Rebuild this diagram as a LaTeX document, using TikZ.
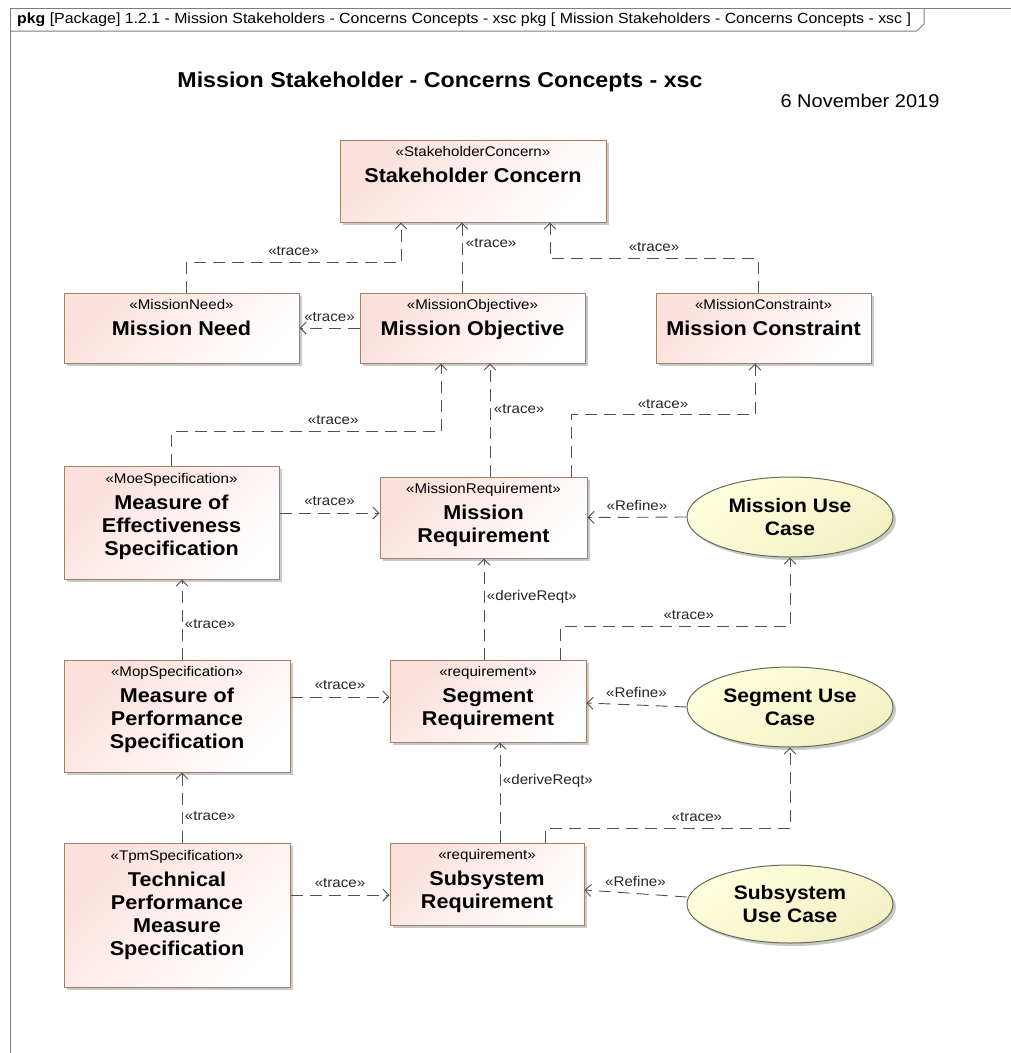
\documentclass[tikz,border=0pt]{standalone}
\usepackage{fontspec}
\setmainfont{Liberation Sans}[FakeStretch=1.08]
\usetikzlibrary{arrows.meta,shapes.geometric,shadows,calc}
\definecolor{boxpink}{RGB}{251,224,220}
\definecolor{boxedge}{RGB}{160,128,105}
\definecolor{ucyel}{RGB}{255,255,222}
\definecolor{ucyel2}{RGB}{242,240,196}
\definecolor{ucedge}{RGB}{105,105,85}
\definecolor{depcol}{RGB}{80,80,80}
\definecolor{framecol}{RGB}{125,125,125}
\tikzset{
  blk/.style={rectangle, draw=boxedge, line width=1pt, shading=axis, top color=boxpink, bottom color=white, shading angle=45,
    drop shadow={shadow xshift=3pt, shadow yshift=-3pt, fill=black!30, opacity=0.7}, inner sep=0pt},
  uc/.style={ellipse, draw=ucedge, line width=1pt, shading=axis, top color=ucyel, bottom color=ucyel2, shading angle=30,
    drop shadow={shadow xshift=3pt, shadow yshift=-3pt, fill=black!30, opacity=0.7},
    minimum width=206pt, minimum height=80pt, inner sep=0pt, align=center, font=\fontsize{19.5}{23}\selectfont\bfseries},
  txt/.style={anchor=north, align=center, inner sep=0pt, font=\fontsize{20}{23}\selectfont\bfseries},
  lbl/.style={font=\fontsize{14}{16}\selectfont, text=black!85, inner sep=1.5pt},
  dep/.style={draw=depcol, line width=0.9pt, dash pattern=on 12pt off 7pt, -{Straight Barb[length=6pt,width=12pt,line width=0.9pt]}},
}
\newcommand{\stt}[1]{{\fontsize{14}{16}\selectfont\mdseries «#1»}\\[3pt]}
\begin{document}
\begin{tikzpicture}[x=1pt,y=-1pt]
\useasboundingbox (0,0) rectangle (1011,1053);
% frame
\draw[framecol, line width=1pt] (10,1053) -- (10,8) -- (1011,8);
\draw[framecol, line width=1pt] (10,31) -- (917,31) -- (924,24) -- (924,8);
\node[anchor=west, inner sep=0pt, font=\fontsize{14.7}{16}\selectfont] (hdr) at (17,20) {\textbf{pkg} [Package] 1.2.1 - Mission Stakeholders - Concerns Concepts - xsc pkg [ Mission Stakeholders - Concerns Concepts - xsc ]};
\node[inner sep=0pt, font=\fontsize{21.5}{25}\selectfont\bfseries] (title) at (440,82) {Mission Stakeholder - Concerns Concepts - xsc};
\node[inner sep=0pt, font=\fontsize{18.5}{22}\selectfont] (date) at (860,101) {6 November 2019};

% boxes
\node[blk, minimum width=266pt, minimum height=82pt] (sc) at (473,181) {};
\node[txt] (sct) at ([yshift=-7pt]sc.north) {\stt{StakeholderConcern}Stakeholder Concern};
\node[blk, minimum width=235pt, minimum height=70pt] (mn) at (181.5,328) {};
\node[txt] (mnt) at ([yshift=-7pt]mn.north) {\stt{MissionNeed}Mission Need};
\node[blk, minimum width=225pt, minimum height=70pt] (mo) at (472.5,328) {};
\node[txt] (mot) at ([yshift=-7pt]mo.north) {\stt{MissionObjective}Mission Objective};
\node[blk, minimum width=215pt, minimum height=70pt] (mc) at (763.5,328) {};
\node[txt] (mct) at ([yshift=-7pt]mc.north) {\stt{MissionConstraint}Mission Constraint};

\node[blk, minimum width=215pt, minimum height=113pt] (moe) at (171.5,522.5) {};
\node[txt] (moet) at ([yshift=-8pt]moe.north) {\stt{MoeSpecification}Measure of\\Effectiveness\\Specification};
\node[blk, minimum width=207pt, minimum height=81pt] (mr) at (483.5,517.5) {};
\node[txt] (mrt) at ([yshift=-7pt]mr.north) {\stt{MissionRequirement}Mission\\Requirement};
\node[uc] (muc) at (790,517) {Mission Use\\Case};

\node[blk, minimum width=226pt, minimum height=112pt] (mop) at (177,716) {};
\node[txt] (mopt) at ([yshift=-7pt]mop.north) {\stt{MopSpecification}Measure of\\Performance\\Specification};
\node[blk, minimum width=196pt, minimum height=82pt] (sr) at (488,701) {};
\node[txt] (srt) at ([yshift=-7pt]sr.north) {\stt{requirement}Segment\\Requirement};
\node[uc] (suc) at (790,707) {Segment Use\\Case};

\node[blk, minimum width=226pt, minimum height=144pt] (tpm) at (177,915) {};
\node[txt] (tpmt) at ([yshift=-8pt]tpm.north) {\stt{TpmSpecification}Technical\\Performance\\Measure\\Specification};
\node[blk, minimum width=194pt, minimum height=82pt] (ssr) at (487,884) {};
\node[txt] (ssrt) at ([yshift=-7pt]ssr.north) {\stt{requirement}Subsystem\\Requirement};
\node[uc, minimum height=78pt] (ssuc) at (790,904) {Subsystem\\Use Case};

% connectors
\draw[dep] ([xshift=4.5pt]mn.north) -- ++(0,-30) -| node[lbl, pos=0.25, above=5pt] {«trace»} ([xshift=-72pt]sc.south);
\draw[dep] ([xshift=-10.5pt]mo.north) -- node[lbl, pos=0.7, right=2pt] {«trace»} ([xshift=-11pt]sc.south);
\draw[dep] ([xshift=-5.5pt]mc.north) -- ++(0,-34) -| node[lbl, pos=0.25, above=5pt] {«trace»} ([xshift=77pt]sc.south);
\draw[dep] (mo.west) -- node[lbl, above=4pt] {«trace»} (mn.east);
\draw[dep] (moe.north) -- ++(0,-34) -| node[lbl, pos=0.3, above=5pt] {«trace»} ([xshift=-31.5pt]mo.south);
\draw[dep] ([xshift=6.5pt]mr.north) -- node[lbl, pos=0.6, right=2pt] {«trace»} ([xshift=17.5pt]mo.south);
\draw[dep] ([xshift=87.5pt]mr.north) -- ++(0,-62) -| node[lbl, pos=0.25, above=4pt] {«trace»} ([xshift=-8.5pt]mc.south);
\draw[dep] ([yshift=9.5pt]moe.east) -- node[lbl, above=5pt] {«trace»} ([yshift=4.5pt]mr.west);
\draw[dep] (muc.west) -- node[lbl, above=5pt] {«Refine»} (mr.east);
\draw[dep] ([xshift=-4pt]sr.north) -- node[lbl, pos=0.62, right=1pt] {«deriveReqt»} ([xshift=0.5pt]mr.south);
\draw[dep] ([xshift=72pt]sr.north) -- ++(0,-33) -| node[lbl, pos=0.28, above=5pt] {«trace»} (muc.south);
\draw[dep] ([xshift=5pt]mop.north) -- node[lbl, pos=0.44, right=1pt] {«trace»} ([xshift=10.5pt]moe.south);
\draw[dep] ([yshift=19pt]mop.east) -- node[lbl, above=5pt] {«trace»} ([yshift=4pt]sr.west);
\draw[dep] (suc.west) -- node[lbl, above=5pt] {«Refine»} ([yshift=-2pt]sr.east);
\draw[dep] ([xshift=13pt]ssr.north) -- node[lbl, pos=0.62, right=1pt] {«deriveReqt»} ([xshift=12pt]sr.south);
\draw[dep] ([xshift=58pt]ssr.north) -- ++(0,-14) -| node[lbl, pos=0.31, above=5pt] {«trace»} (suc.south);
\draw[dep] ([xshift=5pt]tpm.north) -- node[lbl, pos=0.38, right=1pt] {«trace»} ([xshift=5pt]mop.south);
\draw[dep] ([yshift=20pt]tpm.east) -- node[lbl, above=5pt] {«trace»} ([yshift=-11pt]ssr.west);
\draw[dep] ([yshift=7pt]ssuc.west) -- node[lbl, above=5pt] {«Refine»} ([yshift=-6pt]ssr.east);
\end{tikzpicture}
\end{document}
